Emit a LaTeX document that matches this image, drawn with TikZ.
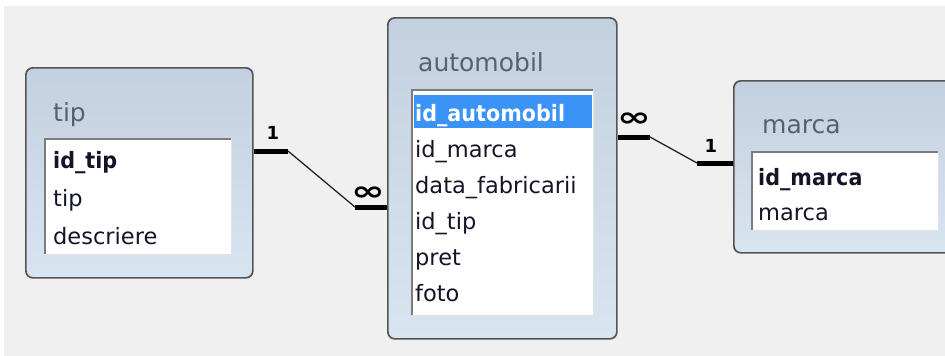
\documentclass[tikz,border=0pt]{standalone}
\usepackage{fontspec}
\setmainfont{DejaVu Sans}
\definecolor{canvas}{HTML}{F0F0F0}
\definecolor{framecol}{HTML}{545454}
\definecolor{paneltop}{HTML}{C3D0DF}
\definecolor{panelbot}{HTML}{D9E4F1}
\definecolor{titlecol}{HTML}{58606E}
\definecolor{fieldcol}{HTML}{141428}
\definecolor{sunkdark}{HTML}{7C7C7C}
\definecolor{sunklight}{HTML}{E2E2E2}
\definecolor{selblue}{HTML}{3A93F5}
\newcommand{\keyfield}[1]{\scalebox{0.92}[1]{\textbf{#1}}}
\newcommand{\manymark}{\scalebox{1.5}[1]{∞}}
\begin{document}
\begin{tikzpicture}[x=1pt,y=-1pt,
  panel/.style={draw=framecol,line width=1.7pt,rounded corners=7pt,
    top color=paneltop,bottom color=panelbot,inner sep=0pt,anchor=north west},
  listbox/.style={fill=white,inner sep=0pt,anchor=north west},
  sunkedge/.style={draw=sunkdark,line width=2.4pt},
  liftedge/.style={draw=sunklight,line width=1.4pt},
  tabletitle/.style={text=titlecol,font=\fontsize{25}{25}\selectfont,inner sep=0pt,anchor=base west},
  field/.style={text=fieldcol,font=\fontsize{22.5}{22.5}\selectfont,inner sep=0pt,anchor=base west},
  bar/.style={line width=5pt,black},
  link/.style={line width=1.3pt,black!85},
  card/.style={font=\bfseries\fontsize{18}{18}\selectfont,inner sep=0pt},
  cardmany/.style={font=\bfseries\fontsize{27}{27}\selectfont,inner sep=0pt},
]
\useasboundingbox (0,0) rectangle (945,356);
\clip (0,0) rectangle (945,356);
\fill[white] (0,0) rectangle (945,356);
\fill[canvas] (4,6) rectangle (945,356);

% ---- table: tip ----
\node[panel,minimum width=227pt,minimum height=210pt] (tip) at (25,67) {};
\node[tabletitle] (tipT) at (53,121) {tip};
\node[listbox,minimum width=186pt,minimum height=115pt] (tipL) at (45,139) {};
\draw[liftedge] (tipL.south west) -- (tipL.south east) -- (tipL.north east);
\draw[sunkedge] (tipL.south west) -- (tipL.north west) -- (tipL.north east);
\node[field] (tip1) at (53,168) {\keyfield{id\_tip}};
\node[field] (tip2) at (53,206) {tip};
\node[field] (tip3) at (53,244) {descriere};

% ---- table: automobil ----
\node[panel,minimum width=229pt,minimum height=321pt] (auto) at (387,17) {};
\node[tabletitle] (autoT) at (418,71) {automobil};
\node[listbox,minimum width=181pt,minimum height=225pt] (autoL) at (412,90) {};
\draw[liftedge] (autoL.south west) -- (autoL.south east) -- (autoL.north east);
\draw[sunkedge] (autoL.south west) -- (autoL.north west) -- (autoL.north east);
\fill[selblue] (414,95) rectangle (592,128);
\node[field,text=white] (auto1) at (415,121) {\keyfield{id\_automobil}};
\node[field] (auto2) at (415,157) {id\_marca};
\node[field] (auto3) at (415,193) {data\_fabricarii};
\node[field] (auto4) at (415,229) {id\_tip};
\node[field] (auto5) at (415,265) {pret};
\node[field] (auto6) at (415,301) {foto};

% ---- table: marca ----
\node[panel,minimum width=240pt,minimum height=172pt] (marca) at (733,80) {};
\node[tabletitle] (marcaT) at (762,133) {marca};
\node[listbox,minimum width=186pt,minimum height=78pt] (marcaL) at (752,152) {};
\draw[liftedge] (marcaL.south west) -- (marcaL.south east) -- (marcaL.north east);
\draw[sunkedge] (marcaL.south west) -- (marcaL.north west) -- (marcaL.north east);
\node[field] (marca1) at (758,185) {\keyfield{id\_marca}};
\node[field] (marca2) at (758,220) {marca};

% ---- relation tip (1) -- automobil (many) ----
\coordinate (r1a) at (288,151);
\coordinate (r1b) at (355,207);
\draw[bar] (tip.east |- r1a) -- (r1a);
\draw[link] (r1a) -- (r1b);
\draw[bar] (r1b) -- (auto.west |- r1b);
\node[card] (r1one) at (273,133) {1};
\node[cardmany] (r1many) at (368,194) {\manymark};

% ---- relation automobil (many) -- marca (1) ----
\coordinate (r2a) at (650,137);
\coordinate (r2b) at (697,163);
\draw[bar] (auto.east |- r2a) -- (r2a);
\draw[link] (r2a) -- (r2b);
\draw[bar] (r2b) -- (marca.west |- r2b);
\node[cardmany] (r2many) at (634,120) {\manymark};
\node[card] (r2one) at (711,146) {1};
\end{tikzpicture}
\end{document}
